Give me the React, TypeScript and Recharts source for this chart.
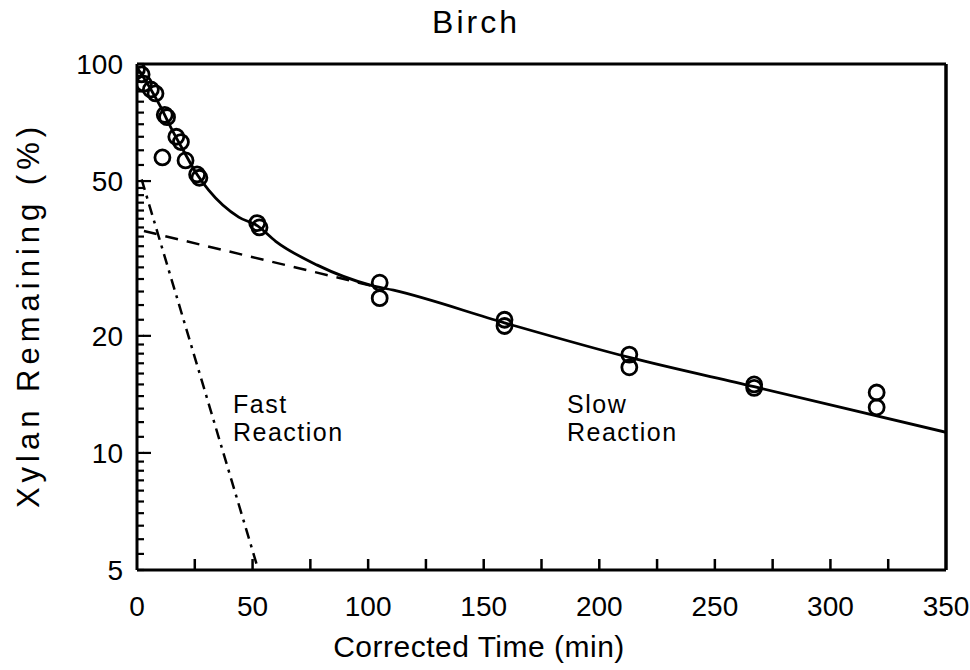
import React from "react";
import {
  ComposedChart, Line, Scatter, XAxis, YAxis, ReferenceLine,
} from "recharts";

// measured xylan (%) vs corrected time (min), several runs per time
const obsTime = [0, 2, 3, 6, 8, 12, 13, 17, 19, 11, 21, 26, 27, 52, 53, 105, 105, 159, 159, 213, 213, 267, 267, 320, 320];
const obsXylan = [97, 94, 89, 86, 84, 74, 73, 65, 63, 57.5, 56.5, 52, 51, 39, 38, 27.4, 25.0, 22.0, 21.2, 17.9, 16.6, 15.0, 14.7, 14.3, 13.1];

// fitted overall curve (solid)
const fitTime = [0, 2, 5, 10, 15, 20, 26, 31, 44, 52, 60, 78, 101, 111, 159, 213, 267, 350];
const fitXylan = [98, 94, 88, 78, 68, 60, 52, 47.4, 40.4, 38.4, 35, 30.4, 27.0, 26.2, 21.6, 17.6, 14.8, 11.3];

// slow reaction extrapolation (dashed) and fast reaction (dash-dot)
const slowTime = [3, 105];
const slowXylan = [37.2, 26.6];
const fastTime = [2, 52.5];
const fastXylan = [50.5, 5];

const xTicks = [0, 25, 50, 75, 100, 125, 150, 175, 200, 225, 250, 275, 300, 325, 350];
const yMajor = [5, 10, 20, 50, 100];
const yTicks = [
  5, 5.5, 6, 6.5, 7, 7.5, 8, 8.5, 9, 9.5,
  10, 11, 12, 13, 14, 15, 16, 17, 18, 19,
  20, 22, 24, 26, 28, 30, 32, 34, 36, 38, 40, 42, 44, 46, 48,
  50, 55, 60, 65, 70, 75, 80, 85, 90, 95, 100,
];

const zip = (xs: number[], ys: number[]) => xs.map((t, i) => ({ t, v: ys[i] }));
const obs = zip(obsTime, obsXylan);
const fit = zip(fitTime, fitXylan);
const slow = zip(slowTime, slowXylan);
const fast = zip(fastTime, fastXylan);

const FONT = '"Liberation Sans", Arial, Helvetica, sans-serif';
const INK = "#000";
const Y_TICK = 7; // inward tick length (negative tickSize turns recharts' ticks inward)

// props.x sits at the inner end of the inward tick line
function YTick(props: any) {
  const x = Number(props.x);
  const y = Number(props.y);
  const v = Number(props.payload.value);
  if (!yMajor.includes(v)) return <g />;
  return (
    <g>
      {v > 5 && v < 100 && <rect x={x - 1} y={y - 1.1} width={Y_TICK + 1} height={2.2} fill={INK} />}
      <text x={x - Y_TICK - 14} y={y} dy="0.36em" textAnchor="end" fontSize={28} fill={INK} fontFamily={FONT}>
        {v}
      </text>
    </g>
  );
}

function XTick(props: any) {
  const x = Number(props.x);
  const y = Number(props.y);
  const v = props.payload.value;
  return (
    <g>
      {v > 0 && v < 350 && <rect x={x - 1.25} y={y - 11} width={2.5} height={11} fill={INK} />}
      {v % 50 === 0 && (
        <text x={x} y={y + 46} textAnchor="middle" fontSize={28} fill={INK} fontFamily={FONT}>
          {v}
        </text>
      )}
    </g>
  );
}

const ring = (p: any) => (
  <circle cx={p.cx} cy={p.cy} r={7.5} fill="none" stroke={INK} strokeWidth={2.8} />
);

const txt: React.CSSProperties = {
  position: "absolute", fontFamily: FONT, color: INK, whiteSpace: "nowrap", lineHeight: 1,
};

export default function App() {
  return (
    <div style={{ position: "absolute", left: 0, top: 0, width: 970, height: 670, background: "#fff" }}>
      <ComposedChart width={970} height={670} data={fit}
        margin={{ top: 64, right: 24, bottom: 40, left: 47 }}>
        <XAxis type="number" dataKey="t" domain={[0, 350]} ticks={xTicks} allowDataOverflow
          height={60} tickSize={0} tickMargin={0} tickLine={false} tick={<XTick />}
          axisLine={{ stroke: INK, strokeWidth: 3 }} interval={0} />
        <YAxis type="number" dataKey="v" scale="log" domain={[5, 100]} ticks={yTicks} allowDataOverflow
          width={90} tickSize={-Y_TICK} tickMargin={0} tick={<YTick />}
          tickLine={{ stroke: INK, strokeWidth: 2.2 }}
          axisLine={{ stroke: INK, strokeWidth: 3 }} interval={0} />
        <ReferenceLine y={100} stroke={INK} strokeWidth={3} />
        <ReferenceLine x={350} stroke={INK} strokeWidth={3.5} />
        <Line data={fast} dataKey="v" type="linear" stroke={INK} strokeWidth={2.5}
          strokeDasharray="11 6 3 6" dot={false} isAnimationActive={false} />
        <Line data={slow} dataKey="v" type="linear" stroke={INK} strokeWidth={2.5}
          strokeDasharray="13 9" dot={false} isAnimationActive={false} />
        <Line data={fit} dataKey="v" type="monotone" stroke={INK} strokeWidth={2.8}
          dot={false} isAnimationActive={false} />
        <Scatter data={obs} dataKey="v" shape={ring} isAnimationActive={false} />
      </ComposedChart>

      <div style={{ ...txt, left: 376, width: 200, top: 6, textAlign: "center", fontSize: 32, letterSpacing: 3 }}>
        Birch
      </div>
      <div style={{ ...txt, left: 279, width: 400, top: 632, textAlign: "center", fontSize: 30, letterSpacing: 0.5 }}>
        Corrected Time (min)
      </div>
      <div style={{
        ...txt, left: 28, top: 315, fontSize: 31, letterSpacing: 5,
        transform: "translate(-50%, -50%) rotate(-90deg)",
      }}>
        Xylan Remaining (%)
      </div>
      <div style={{ ...txt, left: 233, top: 390, fontSize: 25, letterSpacing: 1.5, lineHeight: "28px" }}>
        Fast<br />Reaction
      </div>
      <div style={{ ...txt, left: 567, top: 390, fontSize: 25, letterSpacing: 1.5, lineHeight: "28px" }}>
        Slow<br />Reaction
      </div>
    </div>
  );
}
